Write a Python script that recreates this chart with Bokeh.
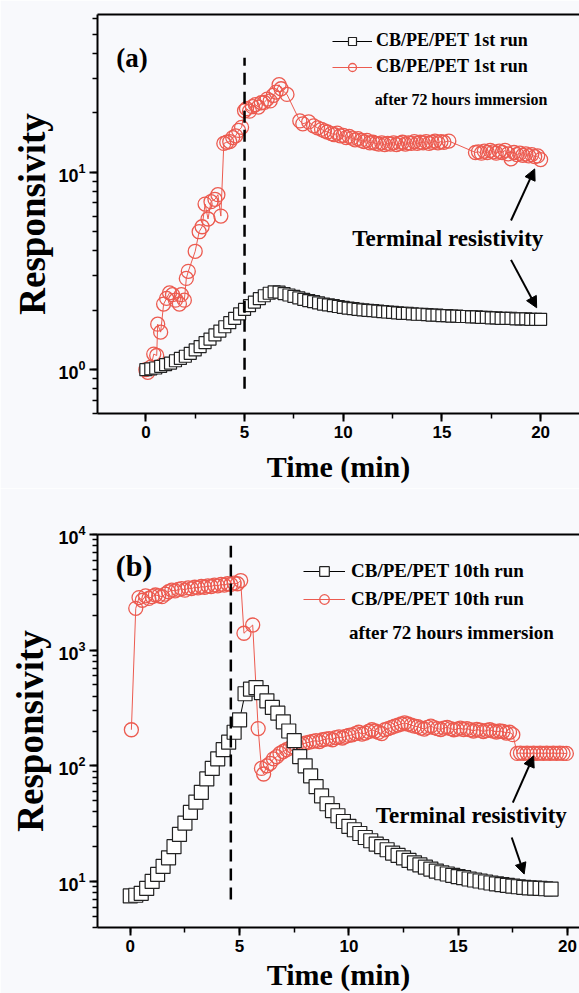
from bokeh.plotting import figure
from bokeh.layouts import column
from bokeh.models import (Range1d, LinearAxis, FixedTicker, SingleIntervalTicker,
                          Legend, LegendItem, Label, Arrow, NormalHead)
from bokeh.embed import file_html
from bokeh.resources import INLINE

# ---------------- data: panel (a) ----------------
time_a_1st = [0.0, 0.25, 0.5, 0.75, 1.0, 1.25, 1.5, 1.75, 2.0, 2.25, 2.5, 2.75, 3.0, 3.25, 3.5, 3.75,
              4.0, 4.25, 4.5, 4.75, 5.0, 5.25, 5.5, 5.75, 6.0, 6.25, 6.5, 6.75, 7.0, 7.25, 7.5, 7.75,
              8.0, 8.25, 8.5, 8.75, 9.0, 9.25, 9.5, 9.75, 10.0, 10.25, 10.5, 10.75, 11.0, 11.25, 11.5,
              11.75, 12.0, 12.25, 12.5, 12.75, 13.0, 13.25, 13.5, 13.75, 14.0, 14.25, 14.5, 14.75, 15.0,
              15.25, 15.5, 15.75, 16.0, 16.25, 16.5, 16.75, 17.0, 17.25, 17.5, 17.75, 18.0, 18.25, 18.5,
              18.75, 19.0, 19.25, 19.5, 19.75, 20.0]
resp_a_1st = [1.00, 1.01, 1.02, 1.04, 1.06, 1.08, 1.11, 1.14, 1.17, 1.21,
              1.26, 1.31, 1.37, 1.43, 1.50, 1.57, 1.65, 1.73, 1.82, 1.92,
              2.02, 2.11, 2.20, 2.29, 2.37, 2.44, 2.48, 2.47, 2.43, 2.39,
              2.35, 2.31, 2.27, 2.24, 2.21, 2.18, 2.15, 2.13, 2.11, 2.09,
              2.07, 2.05, 2.04, 2.02, 2.01, 2.00, 1.99, 1.98, 1.97, 1.96,
              1.95, 1.94, 1.93, 1.93, 1.92, 1.91, 1.91, 1.90, 1.89, 1.89,
              1.88, 1.88, 1.87, 1.87, 1.86, 1.86, 1.85, 1.85, 1.84, 1.84,
              1.83, 1.83, 1.82, 1.82, 1.82, 1.81, 1.81, 1.81, 1.80, 1.80,
              1.80]

time_a_72h = [0.0, 0.1, 0.25, 0.4, 0.55, 0.6, 0.75, 0.9, 1.05, 1.2,
              1.35, 1.5, 1.7, 1.8, 1.95, 2.05, 2.15, 2.5, 2.7, 2.85,
              3.0, 3.15, 3.3, 3.5, 3.65, 3.8, 3.95, 4.1, 4.25, 4.4,
              4.55, 4.7, 4.85, 5.0, 5.1, 5.25, 5.4, 5.55, 5.7, 5.85,
              6.0, 6.15, 6.3, 6.45, 6.6, 6.75, 6.85, 7.15, 7.8, 7.95,
              8.25, 8.5, 8.7, 8.9, 9.05, 9.2, 9.4, 9.55, 9.7, 9.85,
              10.0, 10.15, 10.3, 10.45, 10.6, 10.75, 10.9, 11.05, 11.2, 11.35,
              11.5, 11.65, 11.8, 11.95, 12.1, 12.25, 12.4, 12.55, 12.7, 12.85,
              13.0, 13.15, 13.3, 13.45, 13.6, 13.75, 13.9, 14.05, 14.2, 14.35,
              14.5, 14.65, 14.8, 14.95, 15.1, 15.35, 16.7, 16.85, 17.0, 17.15,
              17.3, 17.45, 17.6, 17.75, 17.9, 18.05, 18.2, 18.35, 18.5, 18.65,
              18.8, 18.95, 19.1, 19.25, 19.4, 19.55, 19.7, 19.85, 20.0]
resp_a_72h = [1.00, 0.97, 1.03, 1.20, 1.18, 1.70, 1.55, 2.15, 2.30, 2.45,
              2.40, 2.25, 2.15, 2.40, 2.25, 2.90, 3.15, 3.98, 5.0, 5.3,
              6.9, 5.8, 7.1, 7.3, 7.7, 6.0, 14.0, 14.2, 14.3, 15.0,
              15.3, 16.3, 16.9, 20.5, 21.0, 20.4, 21.5, 22.0, 21.4, 22.5,
              22.6, 23.5, 23.0, 24.5, 25.5, 27.8, 26.5, 24.8, 18.2, 17.6,
              18.0, 17.2, 16.8, 16.5, 16.2, 16.0, 15.7, 15.5, 15.8, 15.3,
              15.4, 15.0, 15.2, 14.9, 14.6, 14.8, 14.5, 14.3, 14.5, 14.1,
              14.2, 14.0, 13.9, 14.1, 13.8, 14.0, 13.9, 14.1, 13.8, 14.0,
              14.2, 13.9, 14.1, 14.0, 14.3, 14.0, 14.2, 14.1, 14.3, 14.0,
              14.2, 14.4, 14.1, 14.3, 14.2, 14.4, 12.6, 12.7, 12.5, 12.8,
              12.6, 12.9, 12.7, 12.5, 12.8, 12.6, 12.9, 12.4, 11.7, 12.6,
              12.3, 12.5, 12.2, 12.4, 12.1, 12.3, 12.0, 12.1, 11.6]

# ---------------- data: panel (b) ----------------
time_b_10th = [0.0, 0.25, 0.5, 0.75, 1.0, 1.25, 1.5, 1.75, 2.0, 2.25, 2.5, 2.75, 3.0, 3.25, 3.5, 3.75,
               4.0, 4.25, 4.5, 4.75, 5.0, 5.25, 5.5, 5.75, 6.0, 6.25, 6.5, 6.75, 7.0, 7.25, 7.5, 7.75,
               8.0, 8.25, 8.5, 8.75, 9.0, 9.25, 9.5, 9.75, 10.0, 10.25, 10.5, 10.75, 11.0, 11.25, 11.5,
               11.75, 12.0, 12.25, 12.5, 12.75, 13.0, 13.25, 13.5, 13.75, 14.0, 14.25, 14.5, 14.75, 15.0,
               15.25, 15.5, 15.75, 16.0, 16.25, 16.5, 16.75, 17.0, 17.25, 17.5, 17.75, 18.0, 18.25, 18.5,
               18.75, 19.0, 19.25]
resp_b_10th = [7.5, 7.6, 7.9, 8.7, 10.0, 11.5, 13.5, 16.0, 20.0, 25.5,
               32.0, 39.5, 48.5, 59.0, 77.0, 95.0, 115, 138, 160, 195,
               250, 420, 460, 475, 430, 365, 320, 285, 240, 200,
               165, 120, 100, 82, 66, 55, 47, 41, 37, 33,
               30, 28, 26, 24, 22.5, 21, 20, 18.8, 17.6, 16.8,
               16.0, 15.2, 14.5, 13.9, 13.3, 12.8, 12.3, 11.9, 11.6, 11.3,
               11.0, 10.8, 10.5, 10.3, 10.1, 9.9, 9.7, 9.55, 9.4, 9.25,
               9.1, 9.0, 8.9, 8.8, 8.75, 8.7, 8.65, 8.6]

time_b_72h = [0.05, 0.25, 0.4, 0.55, 0.7, 0.85, 1.0, 1.15, 1.3, 1.45,
              1.6, 1.75, 1.9, 2.05, 2.2, 2.35, 2.5, 2.65, 2.8, 2.95,
              3.1, 3.25, 3.4, 3.55, 3.7, 3.85, 4.0, 4.15, 4.3, 4.45,
              4.6, 4.75, 4.9, 5.05, 5.2, 5.6, 5.85, 6.0, 6.1, 6.25,
              6.4, 6.55, 6.7, 6.85, 7.0, 7.15, 7.3, 7.45, 7.6, 7.75,
              7.9, 8.05, 8.2, 8.35, 8.5, 8.65, 8.8, 8.95, 9.1, 9.25,
              9.4, 9.55, 9.7, 9.85, 10.0, 10.15, 10.3, 10.45, 10.6, 10.75,
              10.9, 11.05, 11.2, 11.35, 11.5, 11.65, 11.8, 11.95, 12.1, 12.25,
              12.4, 12.55, 12.7, 12.85, 13.0, 13.15, 13.3, 13.45, 13.6, 13.75,
              13.9, 14.05, 14.2, 14.35, 14.5, 14.65, 14.8, 14.95, 15.1, 15.25,
              15.4, 15.55, 15.7, 15.85, 16.0, 16.15, 16.3, 16.45, 16.6, 16.75,
              16.9, 17.05, 17.2, 17.35, 17.5, 17.7, 17.85, 18.0, 18.15, 18.3,
              18.45, 18.6, 18.75, 18.9, 19.05, 19.2, 19.35, 19.5, 19.65, 19.8,
              19.95]
resp_b_72h = [205, 2300, 2850, 2700, 2950, 2800, 2900, 3000, 2950, 2900,
              3050, 3200, 3300, 3250, 3350, 3400, 3300, 3450, 3400, 3500,
              3450, 3550, 3500, 3600, 3550, 3650, 3600, 3700, 3650, 3750,
              3700, 3800, 3750, 4000, 1400, 1650, 210, 95, 85, 100,
              105, 115, 120, 128, 133, 138, 142, 146, 150, 153,
              155, 158, 160, 163, 165, 162, 168, 170, 172, 168,
              175, 178, 174, 180, 183, 185, 190, 195, 188, 192,
              198, 205, 200, 195, 190, 205, 210, 215, 220, 225,
              230, 235, 230, 225, 220, 218, 212, 208, 215, 220,
              214, 210, 206, 212, 215, 210, 205, 208, 212, 206,
              210, 205, 200, 206, 203, 198, 202, 205, 200, 196,
              200, 198, 192, 195, 186, 128, 129, 128, 129, 128,
              129, 128, 129, 128, 129, 128, 129, 128, 129, 128,
              128]

assert len(time_a_1st) == len(resp_a_1st)
assert len(time_a_72h) == len(resp_a_72h)
assert len(time_b_10th) == len(resp_b_10th)
assert len(time_b_72h) == len(resp_b_72h)

# annotations (data coordinates)
dash_a_time, dash_a_span = 5.0, [0.8, 38]
dash_b_time, dash_b_span = 4.6, [7.0, 8000]
panel_tag_a = ("(a)", -0.7, 38)
panel_tag_b = ("(b)", 0.17, 5400)
terminal_a = (15.3, 4.6)
terminal_b = (15.6, 37)
arrows_a = [(18.5, 5.7, 19.7, 10.4), (18.5, 3.6, 19.8, 2.06)]
arrows_b = [(17.5, 48, 18.45, 122), (17.45, 24, 18.02, 11.6)]
legend_labels_a = ["CB/PE/PET 1st run", "CB/PE/PET 1st run", "after 72 hours immersion"]
legend_labels_b = ["CB/PE/PET 10th run", "CB/PE/PET 10th run", "after 72 hours immersion"]
after_label_a = (11.6, 23.4)
after_label_b = (10.0, 1420)

BG = "#f8f9fc"
RED = "#ec5b50"
SERIF = "Liberation Serif"
SANS = "Liberation Sans"


def style_axes(p, tick_size_x, tick_size_y, label_size_x, label_size_y, xstandoff, ystandoff):
    for ax in p.xaxis + p.yaxis:
        ax.axis_line_width = 2
        ax.axis_line_color = "black"
        ax.major_tick_line_width = 2
        ax.minor_tick_line_width = 1.5
        ax.major_tick_in = 0
        ax.major_tick_out = 8
        ax.minor_tick_in = 0
        ax.minor_tick_out = 5
        ax.major_label_text_font = SANS
        ax.major_label_text_font_style = "bold"
        ax.major_label_text_color = "black"
        ax.axis_label_text_font = SERIF
        ax.axis_label_text_font_style = "bold"
        ax.axis_label_text_color = "black"
        ax.major_label_standoff = 4
    p.xaxis.major_label_text_font_size = tick_size_x
    p.yaxis.major_label_text_font_size = tick_size_y
    p.xaxis.axis_label_text_font_size = label_size_x
    p.yaxis.axis_label_text_font_size = label_size_y
    p.xaxis.axis_label_standoff = xstandoff
    p.yaxis.axis_label_standoff = ystandoff
    p.xaxis.ticker = SingleIntervalTicker(interval=5, num_minor_ticks=2)
    p.xaxis.axis_label = "Time (min)"
    p.yaxis.axis_label = "Responsivity"
    p.xgrid.visible = False
    p.ygrid.visible = False
    top = LinearAxis(ticker=FixedTicker(ticks=[]), axis_line_width=2, axis_line_color="black",
                     major_label_text_font_size="0px", major_tick_out=0, minor_tick_out=0,
                     major_tick_in=0, minor_tick_in=0)
    p.add_layout(top, "above")


def make_panel(width, height, xr, yr, borders):
    left, top, bottom = borders
    p = figure(width=width, height=height, x_range=Range1d(*xr), y_range=Range1d(*yr),
               y_axis_type="log", output_backend="svg", toolbar_location=None,
               min_border_left=left, min_border_right=0, min_border_top=top, min_border_bottom=bottom,
               background_fill_color=BG, border_fill_color=BG, outline_line_color=None)
    return p


def add_series(p, t_black, y_black, t_red, y_red, sq_size, circ_size):
    lr = p.line(t_red, y_red, line_color=RED, line_width=1)
    sr = p.scatter(t_red, y_red, marker="circle", size=circ_size, line_color=RED, line_width=1.3,
                   fill_color=None)
    lb = p.line(t_black, y_black, line_color="black", line_width=1)
    sb = p.scatter(t_black, y_black, marker="square", size=sq_size, line_color="#222222",
                   line_width=1.2, fill_color="white")
    return lb, sb, lr, sr


def add_annotations(p, dash_t, dash_span, tag, tag_size, term, arrows, labels, leg_loc, leg_font,
                    gw, gh, sp, standoff, after_pos, after_size, renderers):
    p.line([dash_t, dash_t], dash_span, line_color="black", line_width=2.5, line_dash="12 7")
    p.add_layout(Label(x=tag[1], y=tag[2], text=tag[0], text_align="center", text_baseline="middle",
                       text_font=SERIF, text_font_style="bold", text_font_size=tag_size,
                       text_color="black"))
    p.add_layout(Label(x=term[0], y=term[1], text="Terminal resistivity", text_align="center",
                       text_baseline="middle", text_font=SERIF, text_font_style="bold",
                       text_font_size="23px", text_color="black"))
    for (x0, y0, x1, y1) in arrows:
        p.add_layout(Arrow(end=NormalHead(size=11, fill_color="black", line_color="black"),
                           x_start=x0, y_start=y0, x_end=x1, y_end=y1,
                           line_width=2, line_color="black"))
    lb, sb, lr, sr = renderers
    leg = Legend(items=[LegendItem(label=labels[0], renderers=[lb, sb]),
                        LegendItem(label=labels[1], renderers=[lr, sr])],
                 location=leg_loc, orientation="vertical", glyph_width=gw, glyph_height=gh,
                 label_height=gh, label_standoff=standoff, spacing=sp, padding=0, margin=0,
                 border_line_color=None, background_fill_alpha=0,
                 label_text_font=SERIF, label_text_font_style="bold", label_text_font_size=leg_font,
                 label_text_color="black")
    p.add_layout(leg)
    p.add_layout(Label(x=after_pos[0], y=after_pos[1], text=labels[2], text_align="left",
                       text_baseline="middle", text_font=SERIF, text_font_style="bold",
                       text_font_size=after_size, text_color="black"))


# ---------------- panel (a) ----------------
pa = make_panel(579, 488, (-2.45, 21.97), (0.6, 63), (90, 14, 75))
style_axes(pa, "17px", "18px", "30px", "37px", 9, 2)
ra = add_series(pa, time_a_1st, resp_a_1st, time_a_72h, resp_a_72h, 12, 14)
add_annotations(pa, dash_a_time, dash_a_span, panel_tag_a, "27px", terminal_a, arrows_a,
                legend_labels_a, (235, 336), "18px", 40, 20, 5, 4, after_label_a, "16px", ra)

# ---------------- panel (b) ----------------
pb = make_panel(579, 505, (-1.5, 20.55), (4, 10000), (97, 46, 66))
style_axes(pb, "17px", "18px", "30px", "37px", 3, 4)
rb = add_series(pb, time_b_10th, resp_b_10th, time_b_72h, resp_b_72h, 14, 14)
add_annotations(pb, dash_b_time, dash_b_span, panel_tag_b, "30px", terminal_b, arrows_b,
                legend_labels_b, (206, 316), "19px", 42, 24, 4, 6, after_label_b, "19px", rb)

layout = column(pa, pb)
open("out.html", "w").write(file_html(layout, INLINE))
